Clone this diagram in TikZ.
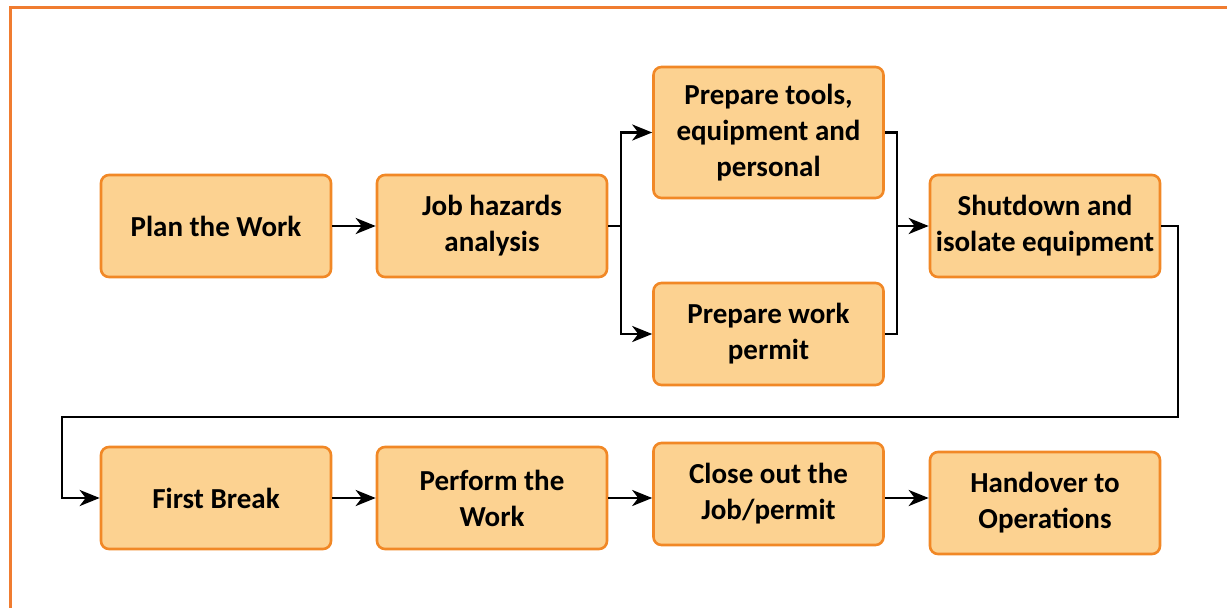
\documentclass[tikz,border=0pt]{standalone}
\usepackage{fontspec}
\setmainfont{Carlito}
\usepackage{xcolor}
\usepackage{tikz}
\usetikzlibrary{arrows.meta}

\definecolor{stepfill}{RGB}{252,210,145}
\definecolor{stepline}{RGB}{241,136,38}
\definecolor{framecol}{RGB}{240,124,48}

\begin{document}
\begin{tikzpicture}[x=1pt,y=-1pt,
    stepbox/.style={draw=stepline,fill=stepfill,line width=2.6pt,rounded corners=8pt,
        minimum width=230pt,minimum height=102pt,inner sep=0pt,align=center,
        font=\fontsize{29}{36}\selectfont\bfseries},
    arr/.style={line width=2.9pt,-{Stealth[length=20pt,width=16pt,inset=6pt]}},
    lin/.style={line width=2.9pt}]
    \useasboundingbox (0,0) rectangle (1227,608);
    \draw[framecol,line width=3pt] (10,608) -- (10,7) -- (1227,7);

    \node[stepbox] (plan) at (216,226) {Plan the Work};
    \node[stepbox] (jha) at (492,226) {Job hazards\\analysis};
    \node[stepbox,minimum height=131pt] (tools) at (768.5,132.5) {Prepare tools,\\equipment and\\personal};
    \node[stepbox] (permit) at (768.5,334) {Prepare work\\permit};
    \node[stepbox] (shut) at (1045,226) {Shutdown and\\isolate equipment};
    \node[stepbox] (first) at (216,498) {First Break};
    \node[stepbox] (perform) at (492,498) {Perform the\\Work};
    \node[stepbox] (close) at (768.5,494) {Close out the\\Job/permit};
    \node[stepbox] (hand) at (1045,503) {Handover to\\Operations};

    \coordinate (split) at (621,226);
    \coordinate (merge) at (897,226);
    \coordinate (wrapR) at (1178,417);
    \coordinate (wrapL) at (62,417);

    \draw[arr] (plan) -- (jha);
    \draw[lin] (jha.east) -- (split);
    \draw[arr] (split) |- (tools.west);
    \draw[arr] (split) |- (permit.west);
    \draw[lin] (tools.east) -| (merge);
    \draw[lin] (permit.east) -| (merge);
    \draw[arr] (merge) -- (shut.west);
    \draw[arr] (shut.east) -| (wrapR) -- (wrapL) |- (first.west);
    \draw[arr] (first) -- (perform);
    \draw[arr] (perform.east) -- (perform.east -| close.west);
    \draw[arr] (close.east |- perform.east) -- (hand.west |- perform.east);
\end{tikzpicture}
\end{document}
